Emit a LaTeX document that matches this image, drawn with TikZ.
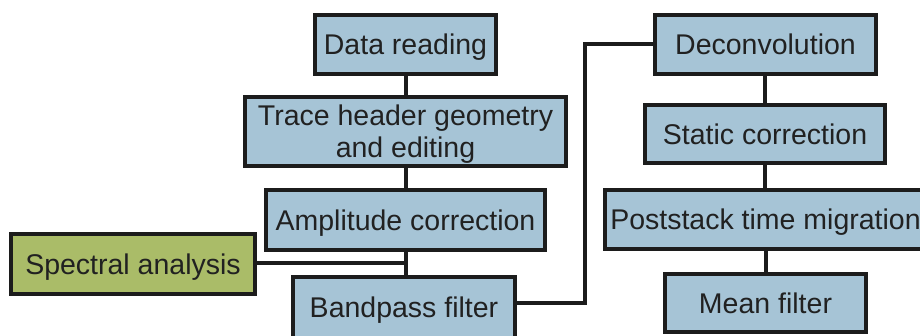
\documentclass[tikz,border=0pt]{standalone}
\usepackage{fontspec}
\setmainfont{Liberation Sans}
\definecolor{boxblue}{RGB}{166,196,214}
\definecolor{boxgreen}{RGB}{170,188,104}
\definecolor{edge}{RGB}{28,28,28}
\begin{document}
\begin{tikzpicture}[x=1pt,y=-1pt,
  stepbox/.style={draw=edge, line width=4pt, fill=boxblue, inner sep=0pt,
    text height=20.5pt, text depth=0pt,
    align=center, text=black!87, font=\fontsize{28.5}{32}\selectfont},
  greenbox/.style={stepbox, fill=boxgreen},
  link/.style={draw=edge, line width=4pt}]
\useasboundingbox[fill=white] (0,0) rectangle (920,336);
\node[stepbox, minimum width=181pt, minimum height=59pt] (dr) at (405.5,44.5) {Data reading};
\node[stepbox, minimum width=321pt, minimum height=69pt, text height=52.5pt] (th) at (405.5,131.5) {Trace header geometry\\and editing};
\node[stepbox, minimum width=279pt, minimum height=60pt] (ac) at (405.5,220) {Amplitude correction};
\node[stepbox, minimum width=222pt, minimum height=61pt] (bp) at (404,307.5) {Bandpass filter};
\node[greenbox, minimum width=244pt, minimum height=60pt] (sa) at (133,264) {Spectral analysis};
\node[stepbox, minimum width=221pt, minimum height=59pt] (dc) at (765.5,44.5) {Deconvolution};
\node[stepbox, minimum width=240pt, minimum height=58pt] (sc) at (765,134) {Static correction};
\node[stepbox, minimum width=321pt, minimum height=59pt] (pm) at (765.5,219.5) {Poststack time migration};
\node[stepbox, minimum width=201pt, minimum height=58pt] (mf) at (765.5,303) {Mean filter};
\coordinate (j) at (405,263);
\coordinate (b1) at (585,303);
\coordinate (b2) at (585,44.5);
\draw[link] (dr.south) -- (th.north);
\draw[link] (th.south) -- (ac.south |- th.south) -- (ac.north);
\draw[link] (ac.south) -- (ac.south |- bp.north);
\draw[link] (sa.east |- j) -- (j);
\draw[link] (bp.east |- b1) -- (b1) -- (b2) -- (dc.west);
\draw[link] (dc.south) -- (sc.south |- dc.south) -- (sc.north);
\draw[link] (sc.south) -- (pm.north -| sc.south);
\draw[link] (pm.south -| mf.north) -- (mf.north);
\end{tikzpicture}
\end{document}
